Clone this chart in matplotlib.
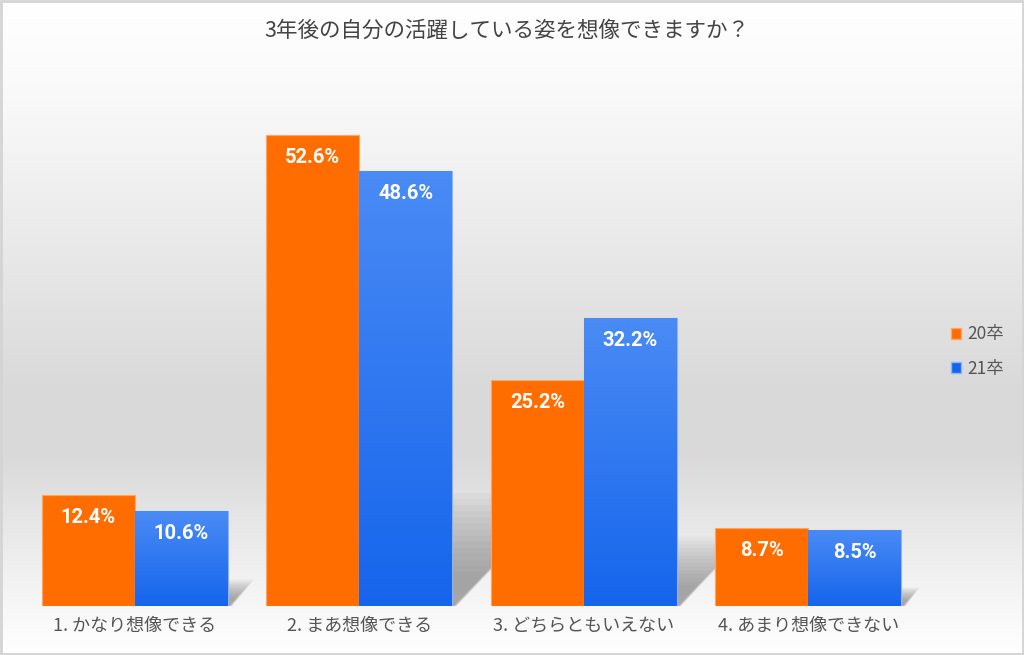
import matplotlib.pyplot as plt
import numpy as np
from matplotlib.colors import LinearSegmentedColormap
from matplotlib.patches import Patch, Polygon

# data
title = '3年後の自分の活躍している姿を想像できますか？'
categories = ['1. かなり想像できる', '2. まあ想像できる', '3. どちらともいえない', '4. あまり想像できない']
series_names = ['20卒', '21卒']
vals_20 = [12.4, 52.6, 25.2, 8.7]
vals_21 = [10.6, 48.6, 32.2, 8.5]

cjk = ['Noto Sans CJK JP', 'DejaVu Sans']
orange = '#ff6d00'
blue_top = '#4a8bf5'
blue_bot = '#1565ec'

fig = plt.figure(figsize=(10.24, 6.55), dpi=100)

# background gradient
bg = fig.add_axes([0, 0, 1, 1])
bg_cmap = LinearSegmentedColormap.from_list('bg', [
    (0.0, '#ffffff'), (0.15, '#f9f9f9'), (0.60, '#d9d9d9'),
    (0.70, '#dadada'), (0.92, '#f6f6f6'), (1.0, '#ffffff')])
bg.imshow(np.linspace(0, 1, 256).reshape(-1, 1), aspect='auto', cmap=bg_cmap,
          extent=[0, 1, 0, 1], origin='upper')
bg.add_patch(plt.Rectangle((0.001, 0.0015), 0.998, 0.997, fill=False,
                           edgecolor='#d4d4d4', lw=2))
bg.set_xlim(0, 1)
bg.set_ylim(0, 1)
bg.axis('off')

ax = fig.add_axes([0.022, 0.0748, 0.877, 0.82])
ax.patch.set_alpha(0)
x = np.arange(len(categories))
w = 0.414

def shadow(x0, x1, h):
    # soft perspective shadow behind a bar group
    hs = 0.24 * h
    d = 0.0095 * h
    for k in np.linspace(1.0, 0.3, 14):
        pts = [(x0, 0), (x1 + 0.02 * k, 0), (x1 + d * k, hs * k), (x0 + d * k, hs * k)]
        ax.add_patch(Polygon(pts, closed=True, facecolor='#666666', alpha=0.05,
                             edgecolor='none', zorder=1))

for i in range(len(x)):
    shadow(x[i] - w, x[i] + w, max(vals_20[i], vals_21[i]))

b20 = ax.bar(x - w / 2, vals_20, w, color=orange, edgecolor='#ffa566', lw=0.8, zorder=3)
b21 = ax.bar(x + w / 2, vals_21, w, color=blue_bot, edgecolor='#8db4f8', lw=0.8, zorder=3)

grad = LinearSegmentedColormap.from_list('bl', [blue_bot, blue_top])
for bar in b21:
    bx, by = bar.get_x(), bar.get_y()
    bw, bh = bar.get_width(), bar.get_height()
    im = ax.imshow(np.linspace(0, 1, 100).reshape(-1, 1), cmap=grad, aspect='auto',
                   extent=[bx, bx + bw, by, by + bh], origin='lower', zorder=3.5)
    im.set_clip_path(bar)

for bars, vals in [(b20, vals_20), (b21, vals_21)]:
    for bar, v in zip(bars, vals):
        ax.text(bar.get_x() + bar.get_width() / 2, v - 2.5, f'{v:.1f}%',
                ha='center', va='center', color='white', fontsize=14.5,
                fontweight='bold', family=['Roboto', 'DejaVu Sans'], zorder=5)

ax.set_xlim(-0.5, len(categories) - 0.5)
ax.set_ylim(0, 60)
ax.set_xticks(x)
ax.set_xticklabels(categories, family=cjk, fontsize=13, color='#555555')
ax.tick_params(axis='x', length=0, pad=8)
ax.set_yticks([])
for s in ax.spines.values():
    s.set_visible(False)

fig.text(0.495, 0.953, title, ha='center', va='center', fontsize=15.5,
         color='#444444', family=cjk)

handles = [Patch(facecolor=orange, edgecolor='#ffa566'),
           Patch(facecolor=blue_bot, edgecolor='#8db4f8')]
fig.legend(handles, series_names, loc='center left', bbox_to_anchor=(0.913, 0.463),
           frameon=False, prop={'family': cjk, 'size': 12.5}, labelcolor='#555555',
           handlelength=0.6, handleheight=0.6, handletextpad=0.35, labelspacing=0.95)

fig.savefig('out.png', dpi=100)
